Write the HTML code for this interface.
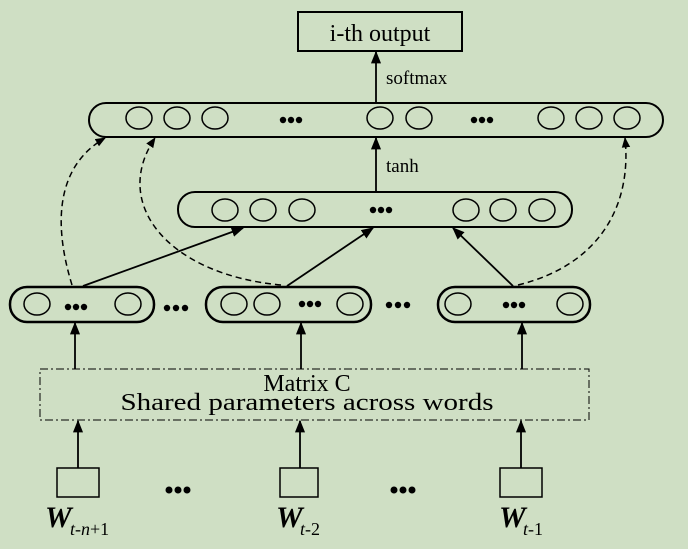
<!DOCTYPE html>
<html><head><meta charset="utf-8"><style>
html,body{margin:0;padding:0;background:#cfdfc4;}
svg{display:block;}
text{font-family:"Liberation Serif",serif;fill:#000;}
</style></head><body>
<svg width="688" height="549" viewBox="0 0 688 549" xmlns="http://www.w3.org/2000/svg">
<defs>
<marker id="a" viewBox="0 0 10 10" refX="9" refY="5" markerWidth="7" markerHeight="7" orient="auto"><path d="M0,1 L10,5 L0,9 z" fill="#000"/></marker>
</defs>
<rect width="688" height="549" fill="#cfdfc4"/>
<g fill="none" stroke="#000" stroke-width="2">
<rect x="298" y="12" width="164" height="39"/>
<rect x="89" y="103" width="574" height="34" rx="17"/>
<rect x="178" y="192" width="394" height="35" rx="17"/>
<rect x="10" y="287" width="144" height="35" rx="17" stroke-width="2.5"/>
<rect x="206" y="287" width="165" height="35" rx="17" stroke-width="2.5"/>
<rect x="438" y="287" width="152" height="35" rx="17" stroke-width="2.5"/>
<rect x="57" y="468" width="42" height="29" stroke-width="1.5"/>
<rect x="280" y="468" width="38" height="29" stroke-width="1.5"/>
<rect x="500" y="468" width="42" height="29" stroke-width="1.5"/>
</g>
<g fill="none" stroke="#000" stroke-width="1.5">
<ellipse cx="139" cy="118" rx="13" ry="11"/><ellipse cx="177" cy="118" rx="13" ry="11"/><ellipse cx="215" cy="118" rx="13" ry="11"/>
<ellipse cx="380" cy="118" rx="13" ry="11"/><ellipse cx="419" cy="118" rx="13" ry="11"/>
<ellipse cx="551" cy="118" rx="13" ry="11"/><ellipse cx="589" cy="118" rx="13" ry="11"/><ellipse cx="627" cy="118" rx="13" ry="11"/>
<ellipse cx="225" cy="210" rx="13" ry="11"/><ellipse cx="263" cy="210" rx="13" ry="11"/><ellipse cx="302" cy="210" rx="13" ry="11"/>
<ellipse cx="466" cy="210" rx="13" ry="11"/><ellipse cx="503" cy="210" rx="13" ry="11"/><ellipse cx="542" cy="210" rx="13" ry="11"/>
<ellipse cx="37" cy="304" rx="13" ry="11"/><ellipse cx="128" cy="304" rx="13" ry="11"/>
<ellipse cx="234" cy="304" rx="13" ry="11"/><ellipse cx="267" cy="304" rx="13" ry="11"/><ellipse cx="350" cy="304" rx="13" ry="11"/>
<ellipse cx="458" cy="304" rx="13" ry="11"/><ellipse cx="570" cy="304" rx="13" ry="11"/>
</g>
<g fill="#000">
<circle cx="283" cy="120" r="3.2"/><circle cx="291" cy="120" r="3.2"/><circle cx="299" cy="120" r="3.2"/>
<circle cx="474" cy="120" r="3.2"/><circle cx="482" cy="120" r="3.2"/><circle cx="490" cy="120" r="3.2"/>
<circle cx="373" cy="210" r="3.2"/><circle cx="381" cy="210" r="3.2"/><circle cx="389" cy="210" r="3.2"/>
<circle cx="68" cy="307" r="3.2"/><circle cx="76" cy="307" r="3.2"/><circle cx="84" cy="307" r="3.2"/>
<circle cx="167" cy="308" r="3.2"/><circle cx="176" cy="308" r="3.2"/><circle cx="185" cy="308" r="3.2"/>
<circle cx="302" cy="304" r="3.2"/><circle cx="310" cy="304" r="3.2"/><circle cx="318" cy="304" r="3.2"/>
<circle cx="389" cy="305" r="3.2"/><circle cx="398" cy="305" r="3.2"/><circle cx="407" cy="305" r="3.2"/>
<circle cx="506" cy="305" r="3.2"/><circle cx="514" cy="305" r="3.2"/><circle cx="522" cy="305" r="3.2"/>
<circle cx="169" cy="490" r="3.5"/><circle cx="178" cy="490" r="3.5"/><circle cx="187" cy="490" r="3.5"/>
<circle cx="394" cy="490" r="3.5"/><circle cx="403" cy="490" r="3.5"/><circle cx="412" cy="490" r="3.5"/>
</g>
<g stroke="#000" stroke-width="1.8" fill="none" marker-end="url(#a)">
<line x1="376" y1="103" x2="376" y2="52"/>
<line x1="376" y1="192" x2="376" y2="138"/>
<line x1="83" y1="286" x2="243" y2="228"/>
<line x1="287" y1="286" x2="373" y2="228"/>
<line x1="513" y1="286" x2="453" y2="228"/>
<line x1="75" y1="369" x2="75" y2="323"/>
<line x1="301" y1="369" x2="301" y2="323"/>
<line x1="522" y1="369" x2="522" y2="323"/>
<line x1="78" y1="468" x2="78" y2="421"/>
<line x1="300" y1="468" x2="300" y2="421"/>
<line x1="521" y1="468" x2="521" y2="421"/>
</g>
<g stroke="#000" stroke-width="1.5" fill="none" stroke-dasharray="6,4" marker-end="url(#a)">
<path d="M72,285 C52,220 58,165 105,138"/>
<path d="M281,285 C170,275 110,205 155,138"/>
<path d="M518,285 C600,265 632,205 625,138"/>
</g>
<rect x="40" y="369" width="549" height="51" fill="none" stroke="#000" stroke-width="1" stroke-dasharray="8,3,2,3"/>
<text x="380" y="41" font-size="24" text-anchor="middle">i-th output</text>
<text x="386" y="84" font-size="19">softmax</text>
<text x="386" y="172" font-size="19">tanh</text>
<text x="307" y="391" font-size="24" text-anchor="middle">Matrix C</text>
<text x="307" y="410" font-size="24" text-anchor="middle" textLength="373" lengthAdjust="spacingAndGlyphs">Shared parameters across words</text>
<g font-weight="bold" font-style="italic">
<text x="45" y="527" font-size="30">W</text>
<text x="276" y="527" font-size="30">W</text>
<text x="499" y="527" font-size="30">W</text>
</g>
<g font-style="italic" font-size="18">
<text x="70" y="535">t-n<tspan font-style="normal">+1</tspan></text>
<text x="300" y="535">t<tspan font-style="normal">-2</tspan></text>
<text x="523" y="535">t<tspan font-style="normal">-1</tspan></text>
</g>
</svg>
</body></html>
